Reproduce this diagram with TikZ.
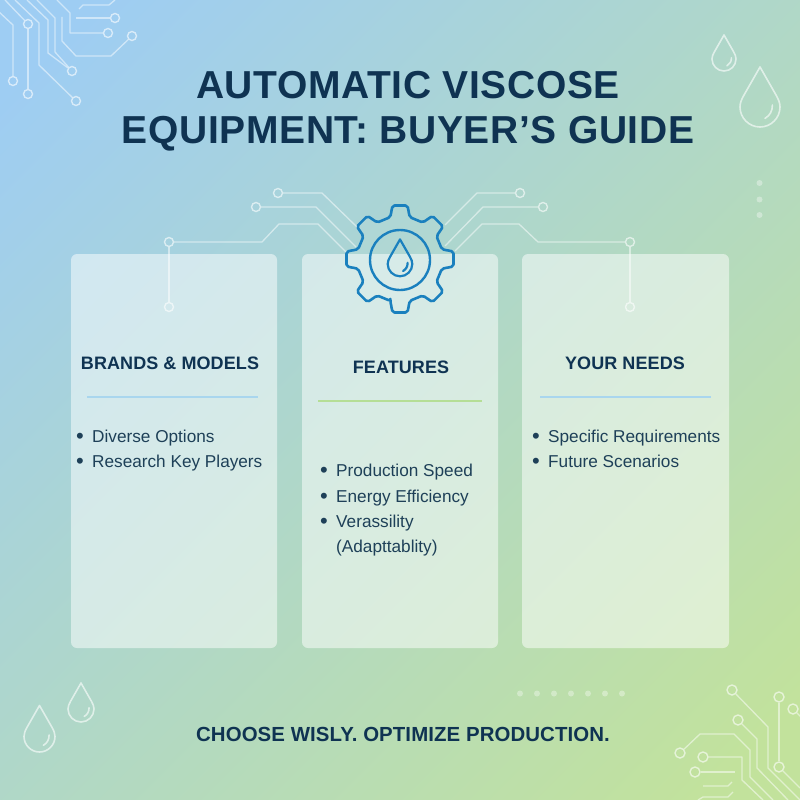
\documentclass[tikz,border=0pt]{standalone}
\usepackage{fontspec}
\setmainfont{Liberation Sans}
\newfontfamily\titlefont[LetterSpace=1.6]{Liberation Sans}
\newfontfamily\headfont[LetterSpace=0.5]{Liberation Sans}
\usetikzlibrary{calc}
\definecolor{bgA}{HTML}{9ECDF3}
\definecolor{bgB}{HTML}{ABD6CE}
\definecolor{bgC}{HTML}{C2E29C}
\definecolor{ink}{HTML}{0F3352}
\definecolor{body}{HTML}{1E4058}
\definecolor{gearblue}{HTML}{1A80BE}
\definecolor{ruleblue}{HTML}{A9D6EE}
\definecolor{rulegreen}{HTML}{B5DE96}
\tikzset{
  x=1pt,y=-1pt,
  trace/.style={draw=white,draw opacity=.5,line width=1.3pt,line join=round},
  pad/.style={circle,draw=white,draw opacity=.6,line width=1.4pt,inner sep=0pt,minimum size=9pt},
  padbig/.style={pad,minimum size=10pt},
  card/.style={fill=white,fill opacity=.5,rounded corners=6pt},
  titletext/.style={font=\titlefont\fontsize{39}{39}\bfseries,text=ink,anchor=base},
  headtext/.style={font=\headfont\fontsize{18}{18}\bfseries,text=ink,anchor=base},
  listtext/.style={font=\fontsize{17.2}{17.2}\selectfont,text=body,anchor=base west,inner sep=0pt},
  footer/.style={font=\headfont\fontsize{20.4}{20.4}\bfseries,text=ink,anchor=base},
  droplet/.pic={
    \path[pic actions] (0,-2) -- (0.8,-0.6) .. controls (0.93,-0.37) and (1,-0.2) .. (1,0)
      .. controls (1,0.55) and (0.55,1) .. (0,1)
      .. controls (-0.55,1) and (-1,0.55) .. (-1,0)
      .. controls (-1,-0.2) and (-0.93,-0.37) .. (-0.8,-0.6) -- cycle;
    \path[pic actions] (0.62,-0.1) .. controls (0.62,0.2) and (0.5,0.42) .. (0.25,0.57);
  },
  pale/.style={draw=white,draw opacity=.6,line width=1.6pt,line join=round,line cap=round},
  speck/.style={circle,fill=white,fill opacity=.35,inner sep=0pt,minimum size=6pt},
}
\newcommand{\blt}{\makebox[16pt][l]{\fontsize{22}{22}\selectfont\raisebox{-1pt}{•}}}
\begin{document}
\begin{tikzpicture}
\useasboundingbox (0,0) rectangle (800,800);
\begin{scope}
\clip (0,0) rectangle (800,800);
\shade[shading=axis,left color=bgA,middle color=bgB,right color=bgC,shading angle=45] (-100,-100) rectangle (900,900);
\end{scope}

% top-left circuit
\begin{scope}
\clip (0,0) rectangle (800,800);
\node[pad] (a1) at (115,18) {};
\node[pad] (a2) at (108,33) {};
\node[pad] (a3) at (132,36) {};
\node[pad] (a4) at (28,24) {};
\node[pad] (a5) at (13,81) {};
\node[pad] (a6) at (28,94) {};
\node[pad] (a7) at (72,71) {};
\node[pad] (a8) at (76,101) {};
\coordinate (e1) at (-2,11);
\coordinate (e2) at (5,0);
\coordinate (e3) at (15,0);
\coordinate (e4) at (27,0);
\coordinate (e5) at (37,0);
\coordinate (e6) at (57,0);
\coordinate (e7) at (62,17);
\coordinate (e8) at (76,18);
\coordinate (e9) at (79,9);
\coordinate (e10) at (115,0);
\draw[trace] (e1) -- (13,25) -- (a5);
\draw[trace] (e2) -- (a4);
\draw[trace] (a4) -- (a6);
\draw[trace] (e3) -- (39,23) -- (39,65) -- (a8);
\draw[trace] (e4) -- (48,20) -- (48,53) -- (a7);
\draw[trace] (e5) -- (55,18) -- (55,52) -- (a7);
\draw[trace] (e6) -- (70,13) -- (70,33) -- (a2);
\draw[trace] (e7) -- (62,41) -- (76,56) -- (111,56) -- (a3);
\draw[trace] (e8) -- (a1);
\draw[trace] (e9) -- (83,5) -- (109,5) -- (e10);

% bottom-right circuit
\node[padbig] (b1) at (732,690) {};
\node[padbig] (b2) at (779,697) {};
\node[padbig] (b3) at (779,767) {};
\node[padbig] (b4) at (793,709) {};
\node[padbig] (b5) at (738,720) {};
\node[padbig] (b6) at (680,753) {};
\node[padbig] (b7) at (703,757) {};
\node[padbig] (b8) at (695,772) {};
\coordinate (f1) at (800,800);
\coordinate (f2) at (800,788);
\coordinate (f3) at (802,718);
\coordinate (f4) at (788,800);
\coordinate (f5) at (773,800);
\coordinate (f6) at (763,800);
\coordinate (f7) at (735,772);
\coordinate (f8) at (703,786);
\coordinate (f9) at (732,782);
\coordinate (f10) at (698,800);
\coordinate (f11) at (733,792);
\draw[trace] (b1) -- (768,727) -- (768,768) -- (f1);
\draw[trace] (b2) -- (b3);
\draw[trace] (b3) -- (f2);
\draw[trace] (b4) -- (f3);
\draw[trace] (b5) -- (757,739) -- (757,768) -- (f4);
\draw[trace] (b6) -- (700,734) -- (734,734) -- (750,750) -- (750,777) -- (f5);
\draw[trace] (b7) -- (742,757) -- (742,780) -- (f6);
\draw[trace] (b8) -- (f7);
\draw[trace] (f8) -- (728,786) -- (f9);
\draw[trace] (f10) -- (703,797) -- (728,797) -- (f11);
\end{scope}

% cards
\path[card] (71,254) rectangle (277,648);
\path[card] (302,254) rectangle (498,648);
\path[card] (522,254) rectangle (729,648);

% gear side traces
\node[pad] (c1) at (278,193) {};
\node[pad] (c2) at (256,207) {};
\node[pad] (c3) at (169,242) {};
\node[pad] (c4) at (169,307) {};
\node[pad] (d1) at (520,193) {};
\node[pad] (d2) at (543,207) {};
\node[pad] (d3) at (630,242) {};
\node[pad] (d4) at (630,307) {};
\coordinate (g1) at (357,227);
\coordinate (g2) at (356,247);
\coordinate (g3) at (346,252);
\coordinate (g4) at (445,225);
\coordinate (g5) at (445,246);
\coordinate (g6) at (455,251);
\draw[trace] (c1) -- (322,193) -- (g1);
\draw[trace] (c2) -- (316,207) -- (g2);
\draw[trace] (c3) -- (262,242) -- (279,224) -- (318,224) -- (g3);
\draw[trace] (c3) -- (c4);
\draw[trace] (d1) -- (477,193) -- (g4);
\draw[trace] (d2) -- (483,207) -- (g5);
\draw[trace] (d3) -- (538,242) -- (519,224) -- (482,224) -- (g6);
\draw[trace] (d3) -- (d4);

% gear
\begin{scope}[shift={(400,259)}]
\draw[draw=gearblue,line width=2.6pt,fill=white,fill opacity=.05,draw opacity=1,rounded corners=2pt,line join=round]
  (103:43)
  \foreach \a in {90,45,0,-45,-90,-135,-180,-225}{
    -- ({\a+13}:43) -- ({\a+8}:54) -- ({\a-8}:54) -- ({\a-13}:43)
  } -- cycle;
\end{scope}
\node[circle,draw=gearblue,line width=2.4pt,minimum size=60pt,inner sep=0pt] (hub) at (400,260) {};
\pic[scale=12.3,draw=gearblue,line width=2.2pt,line cap=round,line join=round] at (400,264) {droplet};

% decorative droplets
\pic[scale=12,pale] at (724,59) {droplet};
\pic[scale=20,pale] at (760,107) {droplet};
\pic[scale=15.5,pale] at (39.5,736.5) {droplet};
\pic[scale=13,pale] at (81,709) {droplet};

% specks
\node[speck] (s1) at (759.5,183) {};
\node[speck] (s2) at (759.5,199.5) {};
\node[speck] (s3) at (759.5,215) {};
\foreach \i/\x in {1/520,2/537,3/554,4/571,5/588,6/605,7/622}
  \node[speck] (t\i) at (\x,693.5) {};

% text
\node[titletext] (title1) at (408,98) {AUTOMATIC VISCOSE};
\node[titletext] (title2) at (408,143) {EQUIPMENT: BUYER’S GUIDE};
\node[headtext] (h1) at (170,369) {BRANDS \& MODELS};
\node[headtext] (h2) at (401,373) {FEATURES};
\node[headtext] (h3) at (625,369) {YOUR NEEDS};
\coordinate (r1a) at (87,397); \coordinate (r1b) at (258,397);
\coordinate (r2a) at (318,401); \coordinate (r2b) at (482,401);
\coordinate (r3a) at (540,397); \coordinate (r3b) at (711,397);
\draw[ruleblue,line width=2.4pt] (r1a) -- (r1b);
\draw[rulegreen,line width=2.4pt] (r2a) -- (r2b);
\draw[ruleblue,line width=2.4pt] (r3a) -- (r3b);
\node[listtext] (l1) at (76,442) {\blt Diverse Options};
\node[listtext] (l2) at (76,467) {\blt Research Key Players};
\node[listtext] (m1) at (320,476) {\blt Production Speed};
\node[listtext] (m2) at (320,502) {\blt Energy Efficiency};
\node[listtext] (m3) at (320,527) {\blt Verassility};
\node[listtext] (m4) at (336,552) {(Adapttablity)};
\node[listtext] (n1) at (532,442) {\blt Specific Requirements};
\node[listtext] (n2) at (532,467) {\blt Future Scenarios};
\node[footer] (foot) at (403,741) {CHOOSE WISLY. OPTIMIZE PRODUCTION.};
\end{tikzpicture}
\end{document}
